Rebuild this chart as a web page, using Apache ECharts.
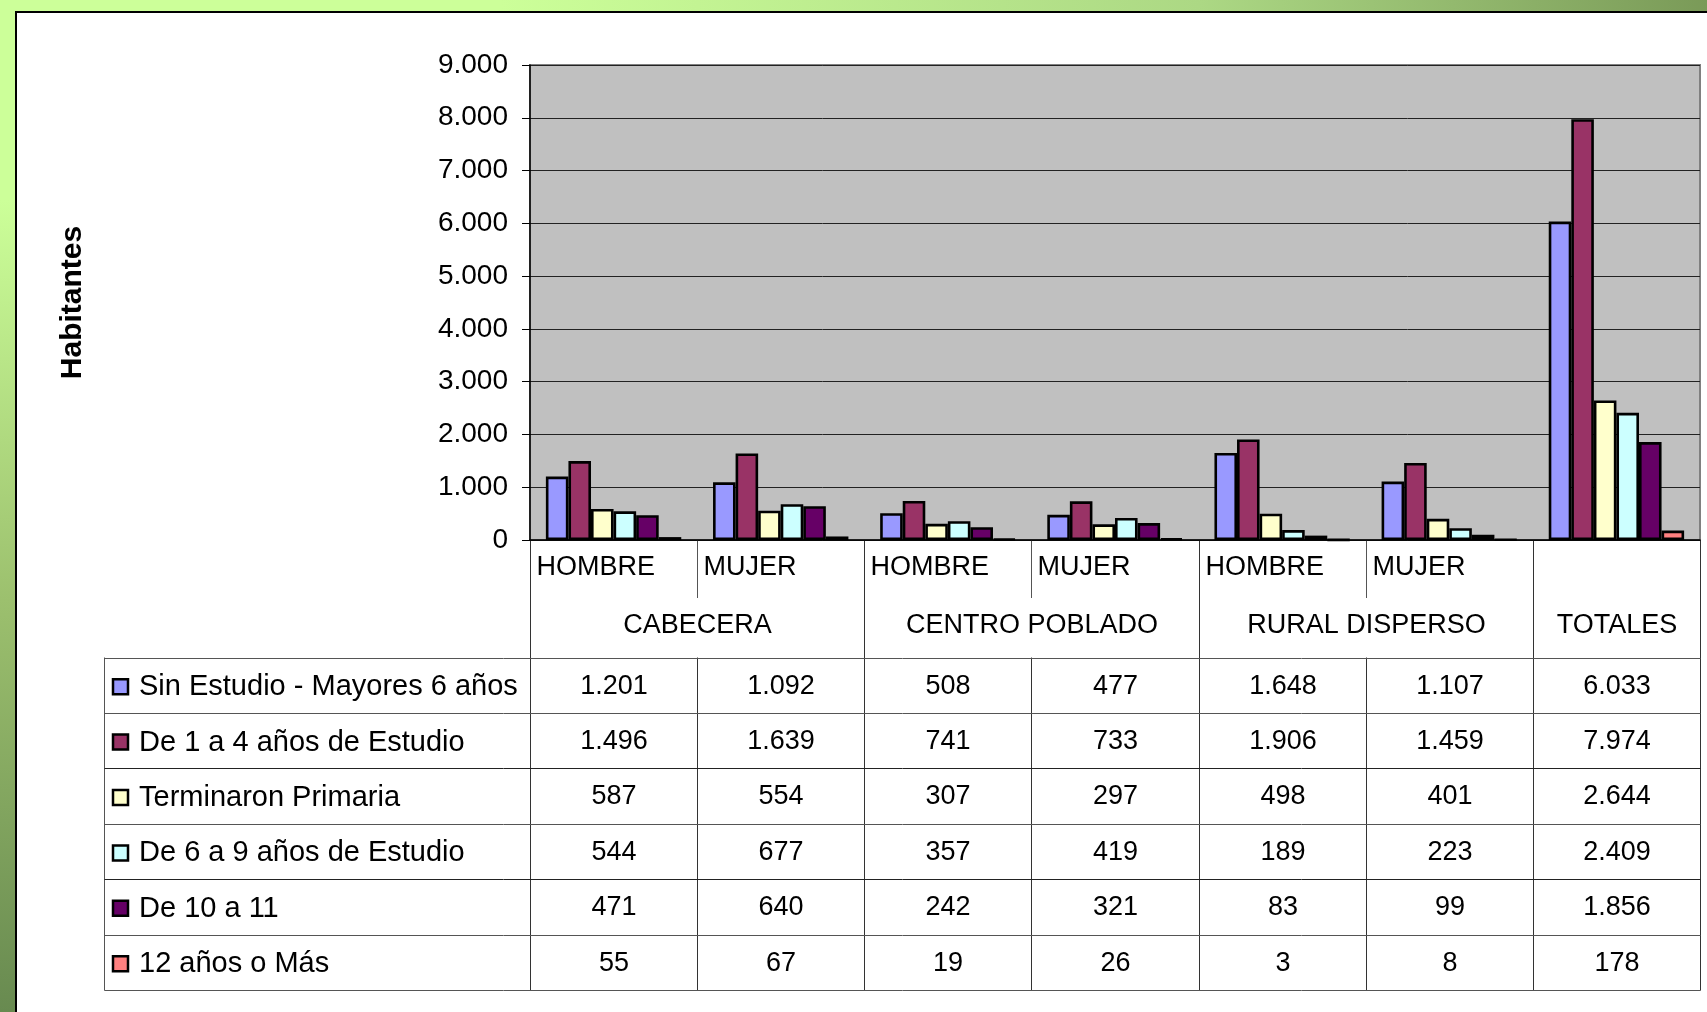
<!DOCTYPE html>
<html>
<head>
<meta charset="utf-8">
<script src="https://cdn.jsdelivr.net/npm/echarts@6/dist/echarts.min.js"></script>
<style>
html,body{margin:0;padding:0;width:1707px;height:1012px;overflow:hidden;background:#fff;}
#bgTop{position:absolute;left:0;top:0;width:1707px;height:13px;background:linear-gradient(to right,#ccff99 0px,#ccff99 500px,#acd884 1200px,#7a9a58 1707px);}
#bgLeft{position:absolute;left:0;top:0;width:16px;height:1012px;background:linear-gradient(to bottom,#ccff99 0px,#ccff99 200px,#9cc06e 600px,#688a50 1012px);}
#panel{position:absolute;left:15px;top:11px;width:1692px;height:1001px;background:#fff;border-left:2px solid #000;border-top:2px solid #000;}
#chart{position:absolute;left:0;top:0;width:1707px;height:1012px;}
</style>
</head>
<body>
<div id="bgTop"></div>
<div id="bgLeft"></div>
<div id="panel"></div>
<div id="chart"></div>
<script>
// ---- data ----
const groups = ['CABECERA', 'CENTRO POBLADO', 'RURAL DISPERSO', 'TOTALES'];
const groupSpans = [2, 2, 2, 1];
const subCats = ['HOMBRE', 'MUJER', 'HOMBRE', 'MUJER', 'HOMBRE', 'MUJER', ''];
const seriesNames = ['Sin Estudio - Mayores 6 años', 'De 1 a 4 años de Estudio', 'Terminaron Primaria', 'De 6 a 9 años de Estudio', 'De 10 a 11', '12 años o Más'];
const sinEstudio = [1201, 1092, 508, 477, 1648, 1107, 6033];
const de1a4 = [1496, 1639, 741, 733, 1906, 1459, 7974];
const terminaronPrimaria = [587, 554, 307, 297, 498, 401, 2644];
const de6a9 = [544, 677, 357, 419, 189, 223, 2409];
const de10a11 = [471, 640, 242, 321, 83, 99, 1856];
const doceOMas = [55, 67, 19, 26, 3, 8, 178];
const yMin = 0, yMax = 9000, yInterval = 1000;
const seriesValues = [sinEstudio, de1a4, terminaronPrimaria, de6a9, de10a11, doceOMas];
const colors = ['#9999FF', '#993366', '#FFFFCC', '#CCFFFF', '#660066', '#FF8080'];

// ---- helpers ----
const FONT = '"Liberation Sans", Arial, sans-serif';
const fmt = v => String(v).replace(/\B(?=(\d{3})+(?!\d))/g, '.');
const catIds = [];
groups.forEach((g, gi) => {
  for (let k = 0; k < groupSpans[gi]; k++) catIds.push(g + '|' + subCats[catIds.length]);
});

const chart = echarts.init(document.getElementById('chart'), null, {renderer: 'canvas'});
const option = {
  backgroundColor: 'transparent',
  animation: false,
  grid: {left: 530, right: 7, top: 65, bottom: 472, show: true, backgroundColor: '#C0C0C0', borderColor: '#808080', borderWidth: 2},
  xAxis: {
    type: 'category', data: catIds,
    axisLine: {show: true, lineStyle: {color: '#000', width: 1.5}},
    axisTick: {show: false}, axisLabel: {show: false}, splitLine: {show: false}
  },
  yAxis: {
    type: 'value', min: yMin, max: yMax, interval: yInterval,
    name: 'Habitantes', nameLocation: 'middle', nameRotate: 90, nameGap: 442,
    nameTextStyle: {fontFamily: FONT, fontSize: 30, fontWeight: 'bold', color: '#000'},
    axisLine: {show: true, lineStyle: {color: '#000', width: 1.5}},
    axisTick: {show: true, length: 8, lineStyle: {color: '#000'}},
    axisLabel: {fontFamily: FONT, fontSize: 28, color: '#000', margin: 22, formatter: v => fmt(v)},
    splitLine: {show: true, lineStyle: {color: '#222', width: 1}}
  },
  series: seriesNames.map((n, i) => ({
    name: n, type: 'bar', data: seriesValues[i],
    barGap: '0%', barCategoryGap: '19%',
    itemStyle: {color: colors[i], borderColor: '#000', borderWidth: 2.6}
  }))
};
chart.setOption(option);

// ---- table drawn from the axis scales ----
const c0 = chart.convertToPixel({xAxisIndex: 0}, 0);
const c1 = chart.convertToPixel({xAxisIndex: 0}, 1);
const colW = c1 - c0;
const xLeft = c0 - colW / 2;
const bx = i => Math.round(xLeft + i * colW) + 0.5;
const y0 = chart.convertToPixel({yAxisIndex: 0}, 0);
const tableTop = Math.round(y0 + 117) + 0.5;
const rowH = 55.4;
const nRows = seriesNames.length;
const tableBottom = Math.round(tableTop + rowH * nRows) + 0.5;
const tableLeft = 104.5;
const nCols = subCats.length;
const subDivBottom = y0 + 58;
const LINE = '#555';

const els = [];
const line = (x1, y1, x2, y2, col) => els.push({type: 'line', silent: true, shape: {x1, y1, x2, y2}, style: {stroke: col || LINE, lineWidth: 1}});
const text = (t, x, y, align, size, weight) => els.push({type: 'text', silent: true, style: {text: t, x, y, align, verticalAlign: 'middle', fontFamily: FONT, fontSize: size || 28, fontWeight: weight || 'normal', fill: '#000'}});

let acc = 0;
const groupBounds = [0];
groupSpans.forEach(s => { acc += s; groupBounds.push(acc); });
for (let i = 0; i <= nCols; i++) {
  if (groupBounds.indexOf(i) >= 0) {
    line(bx(i), y0, bx(i), tableBottom, '#333');
  } else {
    line(bx(i), y0, bx(i), subDivBottom, LINE);
    line(bx(i), tableTop, bx(i), tableBottom, '#333');
  }
}
line(tableLeft, tableTop, tableLeft, tableBottom, LINE);
for (let r = 0; r <= nRows; r++) {
  const y = Math.round(tableTop + rowH * r) + 0.5;
  line(tableLeft, y, bx(nCols), y, r % 2 === 0 && r > 0 && r < nRows ? '#222' : LINE);
}
subCats.forEach((s, i) => { if (s) text(s, bx(i) + 6, y0 + 28, 'left', 27); });
groups.forEach((g, gi) => {
  const cx = (bx(groupBounds[gi]) + bx(groupBounds[gi + 1])) / 2;
  text(g, cx, y0 + 86, 'center', 27);
});
seriesNames.forEach((n, r) => {
  const cy = tableTop + rowH * (r + 0.5);
  els.push({type: 'rect', silent: true, shape: {x: 113, y: cy - 6, width: 15, height: 15}, style: {fill: colors[r], stroke: '#000', lineWidth: 2.5}});
  text(n, 139, cy + 2, 'left', 29);
  seriesValues[r].forEach((v, i) => {
    text(fmt(v), (bx(i) + bx(i + 1)) / 2, cy + 1, 'center', 27);
  });
});

chart.setOption({graphic: {elements: els}});
</script>
</body>
</html>
